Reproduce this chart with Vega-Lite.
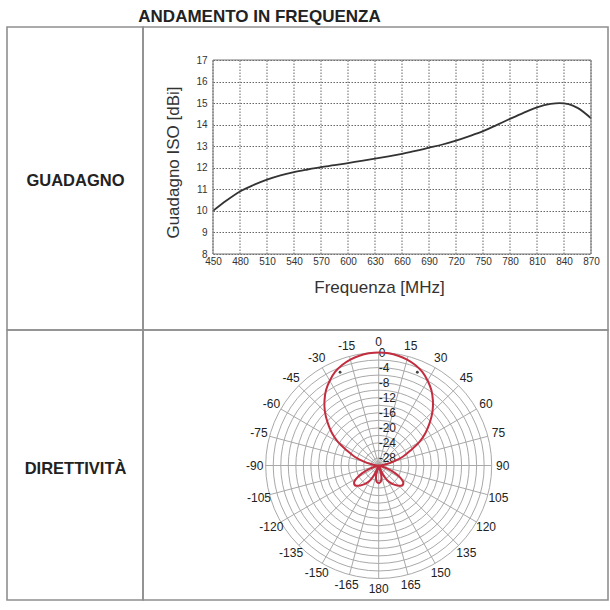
{
  "$schema": "https://vega.github.io/schema/vega-lite/v6.json",
  "padding": {"left": 6, "top": 8, "right": 0, "bottom": 0},
  "spacing": 0,
  "columns": 2,
  "bounds": "flush",
  "title": {"text": "ANDAMENTO IN FREQUENZA", "anchor": "middle", "dx": -48, "fontSize": 17, "fontWeight": "bold", "color": "#222222", "offset": 0, "font": "Liberation Sans"},
  "config": {
    "font": "Liberation Sans",
    "view": {"stroke": "#8f8f8f", "strokeWidth": 1.6},
    "concat": {"spacing": 0}
  },
  "concat": [
    {
      "width": 136,
      "height": 303,
      "data": {"values": [{"t": "GUADAGNO"}]},
      "transform": [{"calculate": "0.5", "as": "c"}],
      "mark": {"type": "text", "fontSize": 16.5, "fontWeight": "bold", "color": "#222222", "baseline": "middle", "dx": 0.5, "dy": 2.5},
      "encoding": {
        "x": {"field": "c", "type": "quantitative", "scale": {"domain": [0, 1]}, "axis": null},
        "y": {"field": "c", "type": "quantitative", "scale": {"domain": [0, 1]}, "axis": null},
        "text": {"field": "t", "type": "nominal"}
      }
    },
    {
      "width": 465,
      "height": 303,
      "layer": [
        {
          "data": {"values": [
            {"f": 450}, {"f": 480}, {"f": 510}, {"f": 540}, {"f": 570}, {"f": 600}, {"f": 630}, {"f": 660},
            {"f": 690}, {"f": 720}, {"f": 750}, {"f": 780}, {"f": 810}, {"f": 840}, {"f": 870}
          ]},
          "transform": [{"calculate": "8", "as": "g0"}, {"calculate": "17", "as": "g1"}],
          "mark": {"type": "rule", "color": "#666666", "strokeWidth": 1, "strokeDash": [1.5, 1.5]},
          "encoding": {
            "x": {"field": "f", "type": "quantitative"},
            "y": {"field": "g0", "type": "quantitative"},
            "y2": {"field": "g1"}
          }
        },
        {
          "data": {"values": [
            {"f": 450, "g": 10.0}, {"f": 465, "g": 10.48}, {"f": 480, "g": 10.9}, {"f": 495, "g": 11.2},
            {"f": 510, "g": 11.45}, {"f": 525, "g": 11.65}, {"f": 540, "g": 11.8}, {"f": 555, "g": 11.92},
            {"f": 570, "g": 12.03}, {"f": 585, "g": 12.12}, {"f": 600, "g": 12.22}, {"f": 615, "g": 12.32},
            {"f": 630, "g": 12.42}, {"f": 645, "g": 12.53}, {"f": 660, "g": 12.65}, {"f": 675, "g": 12.78},
            {"f": 690, "g": 12.93}, {"f": 705, "g": 13.08}, {"f": 720, "g": 13.26}, {"f": 735, "g": 13.47},
            {"f": 750, "g": 13.7}, {"f": 765, "g": 13.98}, {"f": 780, "g": 14.27}, {"f": 795, "g": 14.55},
            {"f": 810, "g": 14.8}, {"f": 825, "g": 14.96}, {"f": 835, "g": 15.0}, {"f": 845, "g": 14.95},
            {"f": 855, "g": 14.78}, {"f": 870, "g": 14.3}
          ]},
          "mark": {"type": "line", "color": "#333333", "strokeWidth": 1.8, "interpolate": "monotone"},
          "encoding": {
            "x": {
              "field": "f", "type": "quantitative",
              "scale": {"domain": [450, 870], "range": [70, 448], "nice": false, "zero": false},
              "axis": {
                "orient": "bottom", "offset": -76,
                "values": [450, 480, 510, 540, 570, 600, 630, 660, 690, 720, 750, 780, 810, 840, 870],
                "tickCount": 40, "format": "d",
                "domain": false, "ticks": false, "tickSize": 0, "labelOverlap": false, "labelFlush": false,
                "labelFontSize": 10, "labelColor": "#333333", "labelPadding": 2.5,
                "grid": false,
                "title": "Frequenza [MHz]", "titleFontSize": 17, "titleFontWeight": "normal", "titleColor": "#333333",
                "titleX": 236, "titleY": 33, "titleBaseline": "middle", "titleAlign": "center"
              }
            },
            "y": {
              "field": "g", "type": "quantitative",
              "scale": {"domain": [8, 17], "range": [227, 33], "nice": false, "zero": false},
              "axis": {
                "orient": "left", "offset": -70,
                "values": [8, 9, 10, 11, 12, 13, 14, 15, 16, 17],
                "tickCount": 40, "format": "d",
                "domain": false, "ticks": false, "tickSize": 0, "labelOverlap": false, "labelFlush": false,
                "labelFontSize": 10, "labelColor": "#333333", "labelPadding": 6,
                "grid": true, "gridColor": "#666666", "gridDash": [1.5, 1.5], "gridWidth": 1,
                "title": "Guadagno ISO [dBi]", "titleFontSize": 17, "titleFontWeight": "normal", "titleColor": "#333333",
                "titleX": -40, "titleY": 135, "titleBaseline": "middle", "titleAlign": "center", "titleAngle": -90
              }
            }
          }
        },
        {
          "data": {"values": [{"f0": 450, "f1": 870, "g0": 8, "g1": 17}]},
          "mark": {"type": "rect", "fill": "transparent", "stroke": "#777777", "strokeWidth": 1},
          "encoding": {
            "x": {"field": "f0", "type": "quantitative"},
            "x2": {"field": "f1"},
            "y": {"field": "g0", "type": "quantitative"},
            "y2": {"field": "g1"}
          }
        }
      ]
    },
    {
      "width": 136,
      "height": 270,
      "data": {"values": [{"t": "DIRETTIVITÀ"}]},
      "transform": [{"calculate": "0.5", "as": "c"}],
      "mark": {"type": "text", "fontSize": 16.5, "fontWeight": "bold", "color": "#222222", "baseline": "middle", "dx": 0.5, "dy": 3.5},
      "encoding": {
        "x": {"field": "c", "type": "quantitative", "scale": {"domain": [0, 1]}, "axis": null},
        "y": {"field": "c", "type": "quantitative", "scale": {"domain": [0, 1]}, "axis": null},
        "text": {"field": "t", "type": "nominal"}
      }
    },
    {
      "width": 465,
      "height": 270,
      "layer": [
        {
          "data": {"values": [
            {"level": -28}, {"level": -26}, {"level": -24}, {"level": -22}, {"level": -20},
            {"level": -18}, {"level": -16}, {"level": -14}, {"level": -12}, {"level": -10},
            {"level": -8}, {"level": -6}, {"level": -4}, {"level": -2}, {"level": 0}
          ]},
          "transform": [{"calculate": "datum.level + 30", "as": "rr"}, {"calculate": "0", "as": "o"}],
          "mark": {"type": "point", "shape": "circle", "filled": false, "color": "#a9a9a9", "strokeWidth": 1, "opacity": 1},
          "encoding": {
            "x": {"field": "o", "type": "quantitative", "scale": {"domain": [-30, 30], "range": [122.7, 348.7], "nice": false, "zero": false}, "axis": null},
            "y": {"field": "o", "type": "quantitative", "scale": {"domain": [-30, 30], "range": [248.5, 22.5], "nice": false, "zero": false}, "axis": null},
            "size": {"field": "rr", "type": "quantitative", "scale": {"type": "pow", "exponent": 2, "domain": [0, 30], "range": [0, 51076], "zero": true, "nice": false}, "legend": null}
          }
        },
        {
          "data": {"values": [
            {"angle": 0}, {"angle": 15}, {"angle": 30}, {"angle": 45}, {"angle": 60}, {"angle": 75},
            {"angle": 90}, {"angle": 105}, {"angle": 120}, {"angle": 135}, {"angle": 150}, {"angle": 165},
            {"angle": 180}, {"angle": 195}, {"angle": 210}, {"angle": 225}, {"angle": 240}, {"angle": 255},
            {"angle": 270}, {"angle": 285}, {"angle": 300}, {"angle": 315}, {"angle": 330}, {"angle": 345}
          ]},
          "transform": [
            {"calculate": "0", "as": "o"},
            {"calculate": "30 * sin(datum.angle * PI / 180)", "as": "ex"},
            {"calculate": "30 * cos(datum.angle * PI / 180)", "as": "ey"}
          ],
          "mark": {"type": "rule", "color": "#a9a9a9", "strokeWidth": 1},
          "encoding": {
            "x": {"field": "o", "type": "quantitative", "scale": {"domain": [-30, 30], "range": [122.7, 348.7], "nice": false, "zero": false}, "axis": null},
            "y": {"field": "o", "type": "quantitative", "scale": {"domain": [-30, 30], "range": [248.5, 22.5], "nice": false, "zero": false}, "axis": null},
            "x2": {"field": "ex"},
            "y2": {"field": "ey"}
          }
        },
        {
          "data": {"values": [
            {"level": 0, "lab": "0"}, {"level": -4, "lab": "-4"}, {"level": -8, "lab": "-8"}, {"level": -12, "lab": "-12"},
            {"level": -16, "lab": "-16"}, {"level": -20, "lab": "-20"}, {"level": -24, "lab": "-24"}, {"level": -28, "lab": "-28"}
          ]},
          "transform": [{"calculate": "datum.level + 30", "as": "rr"}, {"calculate": "0", "as": "o"}],
          "mark": {"type": "text", "fontSize": 12, "color": "#222222", "align": "left", "baseline": "middle", "dx": 0},
          "encoding": {
            "x": {"field": "o", "type": "quantitative", "scale": {"domain": [-30, 30], "range": [122.7, 348.7], "nice": false, "zero": false}, "axis": null},
            "y": {"field": "rr", "type": "quantitative", "scale": {"domain": [-30, 30], "range": [248.5, 22.5], "nice": false, "zero": false}, "axis": null},
            "text": {"field": "lab", "type": "nominal"}
          }
        },
        {
          "data": {"values": [
            {"angle": -180, "db": -25.3}, {"angle": -175, "db": -25.5}, {"angle": -170, "db": -26.1}, {"angle": -165, "db": -27.5},
            {"angle": -160, "db": -30}, {"angle": -155, "db": -27.3}, {"angle": -150, "db": -25.5}, {"angle": -145, "db": -24.3},
            {"angle": -140, "db": -23.3}, {"angle": -135, "db": -22.4}, {"angle": -130, "db": -21.8}, {"angle": -125, "db": -22.0},
            {"angle": -120, "db": -23.2}, {"angle": -115, "db": -25.2}, {"angle": -110, "db": -27.4}, {"angle": -105, "db": -29.3},
            {"angle": -100, "db": -30}, {"angle": -95, "db": -30}, {"angle": -90, "db": -30}, {"angle": -85, "db": -29.2},
            {"angle": -80, "db": -27.8}, {"angle": -75, "db": -25.8}, {"angle": -70, "db": -23.2}, {"angle": -65, "db": -20.8},
            {"angle": -60, "db": -17.5}, {"angle": -55, "db": -14.8}, {"angle": -50, "db": -12.3}, {"angle": -45, "db": -9.8},
            {"angle": -40, "db": -7.6}, {"angle": -35, "db": -5.6}, {"angle": -30, "db": -4.0}, {"angle": -25, "db": -2.6},
            {"angle": -20, "db": -1.6}, {"angle": -15, "db": -0.9}, {"angle": -10, "db": -0.4}, {"angle": -5, "db": -0.1},
            {"angle": 0, "db": 0},
            {"angle": 5, "db": -0.1}, {"angle": 10, "db": -0.4}, {"angle": 15, "db": -0.9}, {"angle": 20, "db": -1.6},
            {"angle": 25, "db": -2.6}, {"angle": 30, "db": -4.0}, {"angle": 35, "db": -5.6}, {"angle": 40, "db": -7.6},
            {"angle": 45, "db": -9.8}, {"angle": 50, "db": -12.3}, {"angle": 55, "db": -14.8}, {"angle": 60, "db": -17.5},
            {"angle": 65, "db": -20.8}, {"angle": 70, "db": -23.2}, {"angle": 75, "db": -25.8}, {"angle": 80, "db": -27.8},
            {"angle": 85, "db": -29.2}, {"angle": 90, "db": -30}, {"angle": 95, "db": -30}, {"angle": 100, "db": -30},
            {"angle": 105, "db": -29.3}, {"angle": 110, "db": -27.4}, {"angle": 115, "db": -25.2}, {"angle": 120, "db": -23.2},
            {"angle": 125, "db": -22.0}, {"angle": 130, "db": -21.8}, {"angle": 135, "db": -22.4}, {"angle": 140, "db": -23.3},
            {"angle": 145, "db": -24.3}, {"angle": 150, "db": -25.5}, {"angle": 155, "db": -27.3}, {"angle": 160, "db": -30},
            {"angle": 165, "db": -27.5}, {"angle": 170, "db": -26.1}, {"angle": 175, "db": -25.5}, {"angle": 180, "db": -25.3}
          ]},
          "transform": [
            {"calculate": "datum.db + 30", "as": "rr"},
            {"calculate": "datum.rr * sin(datum.angle * PI / 180)", "as": "px"},
            {"calculate": "datum.rr * cos(datum.angle * PI / 180)", "as": "py"}
          ],
          "mark": {"type": "line", "color": "#c22d3f", "strokeWidth": 2, "interpolate": "catmull-rom"},
          "encoding": {
            "x": {"field": "px", "type": "quantitative", "scale": {"domain": [-30, 30], "range": [122.7, 348.7], "nice": false, "zero": false}, "axis": null},
            "y": {"field": "py", "type": "quantitative", "scale": {"domain": [-30, 30], "range": [248.5, 22.5], "nice": false, "zero": false}, "axis": null},
            "order": {"field": "angle", "type": "quantitative"}
          }
        },
        {
          "data": {"values": [{"angle": -22.5, "db": -3.2}, {"angle": 22.5, "db": -3.2}]},
          "transform": [
            {"calculate": "datum.db + 30", "as": "rr"},
            {"calculate": "datum.rr * sin(datum.angle * PI / 180)", "as": "px"},
            {"calculate": "datum.rr * cos(datum.angle * PI / 180)", "as": "py"}
          ],
          "mark": {"type": "point", "filled": true, "color": "#444444", "size": 8, "opacity": 1},
          "encoding": {
            "x": {"field": "px", "type": "quantitative", "scale": {"domain": [-30, 30], "range": [122.7, 348.7], "nice": false, "zero": false}, "axis": null},
            "y": {"field": "py", "type": "quantitative", "scale": {"domain": [-30, 30], "range": [248.5, 22.5], "nice": false, "zero": false}, "axis": null}
          }
        },
        {
          "data": {"values": [
            {"angle": 0, "lab": "0"}, {"angle": 15, "lab": "15"}, {"angle": 30, "lab": "30"}, {"angle": 45, "lab": "45"},
            {"angle": 60, "lab": "60"}, {"angle": 75, "lab": "75"}, {"angle": 90, "lab": "90"}, {"angle": 105, "lab": "105"},
            {"angle": 120, "lab": "120"}, {"angle": 135, "lab": "135"}, {"angle": 150, "lab": "150"}, {"angle": 165, "lab": "165"},
            {"angle": 180, "lab": "180"}, {"angle": -165, "lab": "-165"}, {"angle": -150, "lab": "-150"}, {"angle": -135, "lab": "-135"},
            {"angle": -120, "lab": "-120"}, {"angle": -105, "lab": "-105"}, {"angle": -90, "lab": "-90"}, {"angle": -75, "lab": "-75"},
            {"angle": -60, "lab": "-60"}, {"angle": -45, "lab": "-45"}, {"angle": -30, "lab": "-30"}, {"angle": -15, "lab": "-15"}
          ]},
          "transform": [
            {"calculate": "32.9 * sin(datum.angle * PI / 180)", "as": "lx"},
            {"calculate": "32.9 * cos(datum.angle * PI / 180)", "as": "ly"}
          ],
          "mark": {"type": "text", "fontSize": 12, "color": "#222222", "align": "center", "baseline": "middle"},
          "encoding": {
            "x": {"field": "lx", "type": "quantitative", "scale": {"domain": [-30, 30], "range": [122.7, 348.7], "nice": false, "zero": false}, "axis": null},
            "y": {"field": "ly", "type": "quantitative", "scale": {"domain": [-30, 30], "range": [248.5, 22.5], "nice": false, "zero": false}, "axis": null},
            "text": {"field": "lab", "type": "nominal"}
          }
        }
      ]
    }
  ]
}
